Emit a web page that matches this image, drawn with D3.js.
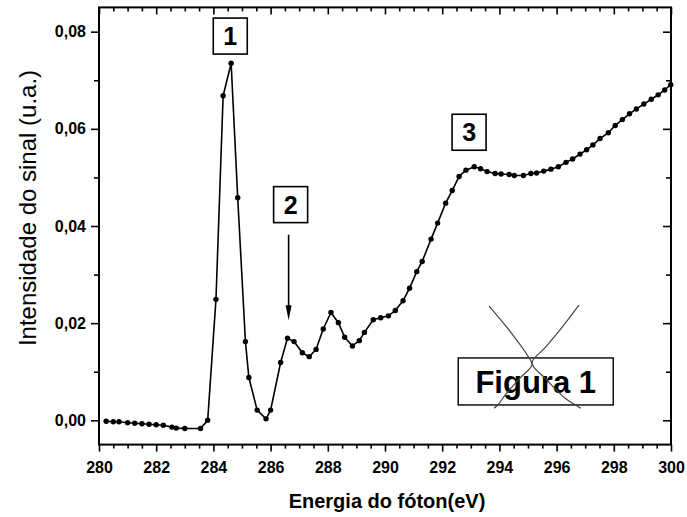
<!DOCTYPE html>
<html>
<head>
<meta charset="utf-8">
<script src="https://cdn.jsdelivr.net/npm/d3@7"></script>
<style>
  html, body { margin: 0; padding: 0; background: #fff; }
  svg { display: block; }
  text { font-family: "Liberation Sans", Arial, sans-serif; fill: #000; }
</style>
</head>
<body>
<svg id="chart" width="687" height="517"></svg>
<script>
// ---------------- data ----------------
const energy = [
  280.25, 280.5, 280.7, 281.0, 281.25, 281.5, 281.75, 282.0, 282.25, 282.55, 282.7, 283.0, 283.55, 283.8,
  284.09, 284.34, 284.62, 284.85, 285.12, 285.24, 285.53, 285.84, 286.0, 286.35, 286.59, 286.82,
  287.11, 287.35, 287.59, 287.84, 288.11, 288.37, 288.59, 288.86, 289.1, 289.28, 289.59, 289.85,
  290.12, 290.36, 290.63, 290.86, 291.11, 291.3, 291.61, 291.84, 292.12, 292.35, 292.59, 292.83,
  293.12, 293.34, 293.57, 293.85, 294.06, 294.34, 294.52, 294.84, 295.1, 295.3, 295.55, 295.8,
  296.06, 296.33, 296.56, 296.82, 297.05, 297.27, 297.52, 297.81, 298.05, 298.3, 298.55, 298.79,
  299.05, 299.31, 299.55, 299.78, 299.99
];
const intensity = [
  -0.0002, -0.0003, -0.0003, -0.0005, -0.0006, -0.0007, -0.0008, -0.0009, -0.0010, -0.0014, -0.0016, -0.0017, -0.0017, 0.0000,
  0.0249, 0.0668, 0.0735, 0.0458, 0.0162, 0.0088, 0.0021, 0.0003, 0.0021, 0.0119, 0.0169, 0.0162,
  0.0139, 0.0131, 0.0146, 0.0188, 0.0222, 0.0201, 0.0171, 0.0153, 0.0164, 0.0181, 0.0207, 0.0211,
  0.0215, 0.0226, 0.0246, 0.0272, 0.0306, 0.0327, 0.0373, 0.0406, 0.0447, 0.0473, 0.0502, 0.0515,
  0.0522, 0.0518, 0.0512, 0.0508, 0.0507, 0.0506, 0.0504, 0.0504, 0.0508, 0.0509, 0.0513, 0.0517,
  0.0522, 0.0531, 0.0538, 0.0548, 0.0557, 0.0567, 0.0580, 0.0592, 0.0607, 0.0619, 0.0631, 0.0641,
  0.0651, 0.0661, 0.0670, 0.0680, 0.0691
];

const xTicks = [280, 282, 284, 286, 288, 290, 292, 294, 296, 298, 300];
const xTickLabels = ["280", "282", "284", "286", "288", "290", "292", "294", "296", "298", "300"];
const xMinorTicks = [280.5, 281, 281.5, 282.5, 283, 283.5, 284.5, 285, 285.5, 286.5, 287, 287.5,
  288.5, 289, 289.5, 290.5, 291, 291.5, 292.5, 293, 293.5, 294.5, 295, 295.5, 296.5, 297, 297.5,
  298.5, 299, 299.5];
const yTicks = [0, 0.02, 0.04, 0.06, 0.08];
const yTickLabels = ["0,00", "0,02", "0,04", "0,06", "0,08"];
const yMinorTicks = [0.01, 0.03, 0.05, 0.07];

const xDomain = [280, 300];
const yDomain = [-0.005, 0.085];

const xTitle = "Energia do fóton(eV)";
const yTitle = "Intensidade do sinal (u.a.)";

// peak labels (data coordinates of box centres)
const peakLabels = ["1", "2", "3"];
const peakLabelX = [284.59, 286.70, 292.94];
const peakLabelY = [0.0791, 0.0444, 0.0593];
// arrow for peak 2
const arrowX = 286.63, arrowY0 = 0.0382, arrowY1 = 0.0206;
// figure tag
const figLabel = "Figura 1";
const figX = 295.27, figY = 0.0080;
// hand-drawn cross-out strokes (data coordinates)
const scribbleA = [[293.64, 0.0235], [294.44, 0.0178], [295.0, 0.0132], [295.14, 0.0114], [294.72, 0.0087], [294.2, 0.0052], [293.95, 0.0032], [293.81, 0.0025]];
const scribbleB = [[296.78, 0.0237], [296.12, 0.0186], [295.59, 0.0149], [295.14, 0.0118], [295.59, 0.0087], [296.29, 0.0046], [296.85, 0.0025]];

// ---------------- layout ----------------
const mLeft = 99, mRight = 671, mTop = 7.4, mBottom = 444.6;

const svg = d3.select("#chart");
const x = d3.scaleLinear().domain(xDomain).range([mLeft, mRight]);
const y = d3.scaleLinear().domain(yDomain).range([mBottom, mTop]);

const tickFont = "bold 16px 'Liberation Sans', Arial, sans-serif";

function styleAxis(g) {
  g.select(".domain").remove();
  g.selectAll(".tick line").attr("stroke", "#000").attr("stroke-width", 1.6);
  g.selectAll(".tick text").style("font", tickFont).attr("fill", "#000");
}

// bottom axis
svg.append("g").attr("transform", `translate(0,${mBottom})`)
  .call(d3.axisBottom(x).tickValues(xTicks).tickSize(7).tickPadding(10)
    .tickFormat((d, i) => xTickLabels[i]))
  .call(styleAxis);
svg.append("g").attr("transform", `translate(0,${mBottom})`)
  .call(d3.axisBottom(x).tickValues(xMinorTicks).tickSize(4).tickFormat(""))
  .call(styleAxis);
// top axis (ticks inward)
svg.append("g").attr("transform", `translate(0,${mTop})`)
  .call(d3.axisTop(x).tickValues(xTicks).tickSize(-7).tickFormat(""))
  .call(styleAxis);
svg.append("g").attr("transform", `translate(0,${mTop})`)
  .call(d3.axisTop(x).tickValues(xMinorTicks).tickSize(-4).tickFormat(""))
  .call(styleAxis);
// left axis
svg.append("g").attr("transform", `translate(${mLeft},0)`)
  .call(d3.axisLeft(y).tickValues(yTicks).tickSize(8).tickPadding(5)
    .tickFormat((d, i) => yTickLabels[i]))
  .call(styleAxis);
svg.append("g").attr("transform", `translate(${mLeft},0)`)
  .call(d3.axisLeft(y).tickValues(yMinorTicks).tickSize(5).tickFormat(""))
  .call(styleAxis);
// right axis (ticks inward)
svg.append("g").attr("transform", `translate(${mRight},0)`)
  .call(d3.axisRight(y).tickValues(yTicks).tickSize(-8).tickFormat(""))
  .call(styleAxis);
svg.append("g").attr("transform", `translate(${mRight},0)`)
  .call(d3.axisRight(y).tickValues(yMinorTicks).tickSize(-5).tickFormat(""))
  .call(styleAxis);

// frame
svg.append("rect")
  .attr("x", mLeft).attr("y", mTop)
  .attr("width", mRight - mLeft).attr("height", mBottom - mTop)
  .attr("fill", "none").attr("stroke", "#000").attr("stroke-width", 2);

// axis titles
svg.append("text")
  .attr("x", (mLeft + mRight) / 2 + 2).attr("y", 508)
  .attr("text-anchor", "middle")
  .style("font", "bold 20px 'Liberation Sans', Arial, sans-serif")
  .text(xTitle);
svg.append("text")
  .attr("transform", `translate(36,208) rotate(-90)`)
  .attr("text-anchor", "middle")
  .style("font", "24px 'Liberation Sans', Arial, sans-serif")
  .text(yTitle);

// data line + markers
const pts = energy.map((e, i) => [e, intensity[i]]);
svg.append("path")
  .datum(pts)
  .attr("fill", "none").attr("stroke", "#000").attr("stroke-width", 1.6)
  .attr("d", d3.line().x(d => x(d[0])).y(d => y(d[1])));
svg.append("g").selectAll("circle")
  .data(pts).join("circle")
  .attr("cx", d => x(d[0])).attr("cy", d => y(d[1]))
  .attr("r", 2.7).attr("fill", "#000");

// peak label boxes
const boxW = 34, boxH = 36;
peakLabels.forEach((lab, i) => {
  const cx = x(peakLabelX[i]), cy = y(peakLabelY[i]);
  svg.append("rect")
    .attr("x", cx - boxW / 2).attr("y", cy - boxH / 2)
    .attr("width", boxW).attr("height", boxH)
    .attr("fill", "#fff").attr("stroke", "#000").attr("stroke-width", 1.6);
  svg.append("text")
    .attr("x", cx).attr("y", cy).attr("dy", "0.36em")
    .attr("text-anchor", "middle")
    .style("font", "bold 25px 'Liberation Sans', Arial, sans-serif")
    .text(lab);
});

// arrow for peak 2
const ax = x(arrowX), ay0 = y(arrowY0), ay1 = y(arrowY1);
svg.append("line")
  .attr("x1", ax).attr("x2", ax).attr("y1", ay0).attr("y2", ay1 - 8)
  .attr("stroke", "#000").attr("stroke-width", 1.6);
svg.append("path")
  .attr("d", `M${ax - 3},${ay1 - 15} L${ax + 3},${ay1 - 15} L${ax},${ay1} Z`)
  .attr("fill", "#000");

// figure tag
const fcx = x(figX), fcy = y(figY);
const fW = 155, fH = 47;
svg.append("rect")
  .attr("x", fcx - fW / 2).attr("y", fcy - fH / 2)
  .attr("width", fW).attr("height", fH)
  .attr("fill", "#fff").attr("stroke", "#000").attr("stroke-width", 1.4);
svg.append("text")
  .attr("x", fcx).attr("y", fcy).attr("dy", "0.36em")
  .attr("text-anchor", "middle")
  .style("font", "bold 31px 'Liberation Sans', Arial, sans-serif")
  .text(figLabel);

// hand-drawn strokes
const scribLine = d3.line().x(d => x(d[0])).y(d => y(d[1])).curve(d3.curveCatmullRom);
[scribbleA, scribbleB].forEach(s => {
  svg.append("path").attr("d", scribLine(s))
    .attr("fill", "none").attr("stroke", "#444").attr("stroke-width", 1.2);
});
</script>
</body>
</html>
